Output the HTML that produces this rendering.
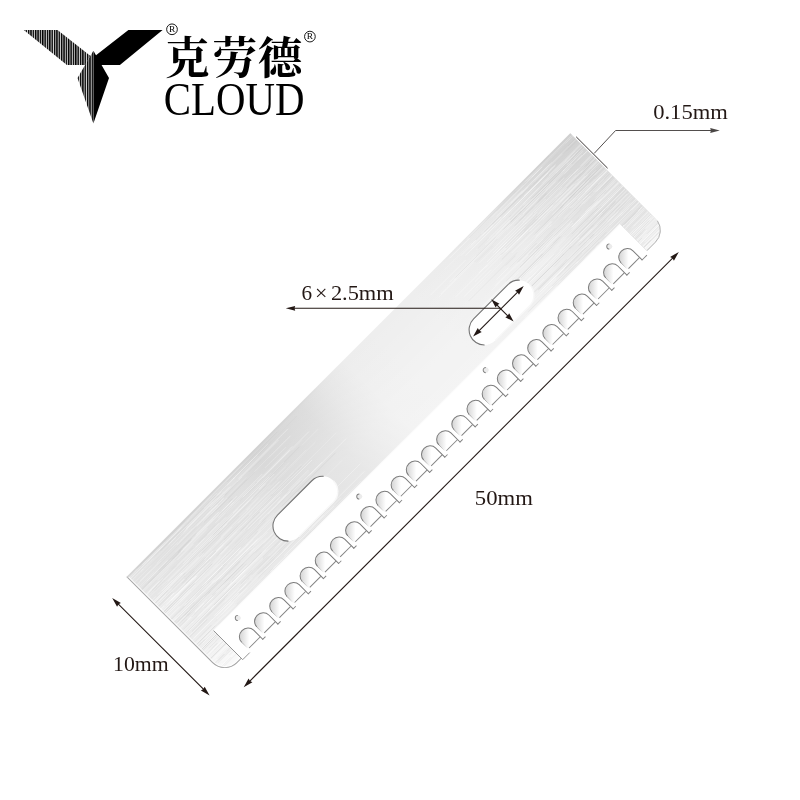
<!DOCTYPE html>
<html lang="zh"><head><meta charset="utf-8"><title>CLOUD blade 50mm</title>
<style>html,body{margin:0;padding:0;background:#fff}body{width:800px;height:800px;overflow:hidden;font-family:"Liberation Serif",serif}svg{display:block;will-change:transform}text{font-family:"Liberation Serif",serif;fill:#231815}</style></head><body>
<svg width="800" height="800" viewBox="0 0 800 800">
<defs>
<pattern id="stripes" patternUnits="userSpaceOnUse" x="23.2" y="0" width="2.36" height="8"><rect x="0" y="0" width="2.36" height="8" fill="#000"/><rect x="1.42" y="0" width="0.94" height="8" fill="#d6d6d6"/></pattern>
<linearGradient id="gU" gradientUnits="userSpaceOnUse" x1="0" y1="0" x2="627.6" y2="0"><stop offset="0" stop-color="#e3e3e3"/><stop offset="0.057" stop-color="#e1e1e1"/><stop offset="0.226" stop-color="#dddddd"/><stop offset="0.282" stop-color="#d6d6d6"/><stop offset="0.338" stop-color="#d8d8d8"/><stop offset="0.387" stop-color="#dcdcdc"/><stop offset="0.44" stop-color="#e6e6e6"/><stop offset="0.488" stop-color="#ededed"/><stop offset="0.553" stop-color="#eeeeee"/><stop offset="0.64" stop-color="#eeeeee"/><stop offset="0.72" stop-color="#ececec"/><stop offset="0.822" stop-color="#e7e7e7"/><stop offset="0.9" stop-color="#dbdbdb"/><stop offset="0.946" stop-color="#d4d4d4"/><stop offset="1" stop-color="#d0d0d0"/></linearGradient>
<linearGradient id="gV" gradientUnits="userSpaceOnUse" x1="0" y1="0" x2="0" y2="137.5"><stop offset="0" stop-color="#fff" stop-opacity="0"/><stop offset="0.50" stop-color="#fff" stop-opacity="0.30"/><stop offset="0.73" stop-color="#fff" stop-opacity="0.34"/><stop offset="1" stop-color="#fff" stop-opacity="0.82"/></linearGradient>
<linearGradient id="gEdge" gradientUnits="userSpaceOnUse" x1="0" y1="0" x2="627.6" y2="0"><stop offset="0" stop-color="#c8c8c8" stop-opacity="0.6"/><stop offset="0.3" stop-color="#c8c8c8" stop-opacity="0.35"/><stop offset="0.45" stop-color="#c8c8c8" stop-opacity="0"/><stop offset="0.7" stop-color="#c8c8c8" stop-opacity="0"/><stop offset="0.85" stop-color="#c8c8c8" stop-opacity="0.3"/><stop offset="1" stop-color="#c8c8c8" stop-opacity="0.5"/></linearGradient>
<clipPath id="bodyClip"><path d="M0 0H627.6V120.5A17 17 0 0 1 610.6 137.5L17.5 139A17.5 17.5 0 0 1 0 121.5Z"/></clipPath>
<linearGradient id="gCell" gradientUnits="userSpaceOnUse" x1="-18.4" y1="-15" x2="-11.4" y2="-8"><stop offset="0" stop-color="#d4d4d4"/><stop offset="0.5" stop-color="#e9e9e9"/><stop offset="1" stop-color="#ffffff"/></linearGradient>
<linearGradient id="gLeg" gradientUnits="userSpaceOnUse" x1="0" y1="-5" x2="0" y2="-14"><stop offset="0" stop-color="#f4f4f4"/><stop offset="1" stop-color="#8a8a8a"/></linearGradient>
<g id="cell"><path d="M-17.4 -3.5V-12.9A8.5 8.0 0 0 1 -0.4 -12.9V-3.5Z" fill="url(#gCell)"/><path d="M-17.4 -5V-12.9" fill="none" stroke="url(#gLeg)" stroke-width="0.9"/><path d="M-17.4 -12.9A8.5 8.0 0 0 1 -0.4 -12.9V0.3" fill="none" stroke="#7c7c7c" stroke-width="1"/><path d="M-0.7 -3.5H-16.2" fill="none" stroke="#828282" stroke-width="0.95"/><path d="M-0.85 0H3.4" fill="none" stroke="#828282" stroke-width="0.95"/></g>
</defs>
<rect width="800" height="800" fill="#fff"/>
<g id="logo-mark">
<path fill="url(#stripes)" d="M23.75 30H57.5L90.2 55.8L85 65H66.9ZM93.4 50.8L77.5 77.9L93.4 123.6Z"/>
<path fill="#000" d="M93.4 50.8L109 77.9L93.4 123.6ZM128.4 30.1H162.6L119.9 64.9H101.5L96 55.3Z"/>
</g>
<g id="logo-text" aria-label="克劳德 CLOUD"><title>克劳德 CLOUD</title>
<text x="165.08 212.56 257.72" y="73.74" font-size="44.7" font-weight="bold" style="font-family:'Liberation Serif','Noto Serif CJK SC',serif;fill:#000">克劳德</text>
<circle cx="172.0" cy="29.3" r="5.35" fill="none" stroke="#000" stroke-width="0.9"/>
<text x="168.9" y="31.75" font-size="7.3" textLength="6.3" lengthAdjust="spacingAndGlyphs" style="fill:#000">R</text>
<circle cx="309.9" cy="36.6" r="5.35" fill="none" stroke="#000" stroke-width="0.9"/>
<text x="306.8" y="39.05" font-size="7.3" textLength="6.3" lengthAdjust="spacingAndGlyphs" style="fill:#000">R</text>
<text x="163.8" y="115" font-size="46.4" textLength="140.6" lengthAdjust="spacingAndGlyphs" style="fill:#000">CLOUD</text>
</g>
<g id="blade" transform="translate(126.5 577) rotate(-45)">
<path d="M0 0H627.6V120.5A17 17 0 0 1 610.6 137.5L17.5 139A17.5 17.5 0 0 1 0 121.5Z" fill="url(#gU)"/>
<path d="M0 0H627.6V120.5A17 17 0 0 1 610.6 137.5L17.5 139A17.5 17.5 0 0 1 0 121.5Z" fill="url(#gV)"/>
<g clip-path="url(#bodyClip)" fill="none" stroke-width="0.7"><path stroke="#ffffff" stroke-opacity="0.48" d="M459.83 79.39h29.45M0 64.35h60.44M64.12 130.97h67.59M88.18 125.72h35.6M600.22 63.58h27.38M14.54 48.18h54.06M551.01 93h76.59M0 40.47h14.84M64.68 91.88h34.25M544.09 16.94h66.75M59.28 65.99h59.46M571.12 122.69h42.48M0 118.23h20.13M28.82 67.59h32.65M78.92 122.59h47.91M441.3 60.19h77.82M167 95.53h40.26M105.1 123.03h49.28M4.71 90.65h26.98M173.81 106.83h23.34M53.26 124.48h40.59M531.72 118.33h69.26M84.95 102.24h16.63M68.85 71.45h58.04M147.64 73.54h40.86M496.87 90.62h76.23M567.49 103.21h58.62M46.91 59.79h54.6M430.43 34.67h45.8M516.52 129.83h79.29M33.4 82.29h39.6M492.77 10.23h52.65M550.46 11.77h44.45M0 111.96h39.77M555.07 73.28h54.06M0 2.13h17.56M530.96 29.14h32.82M50.22 137.69h72.62M34.6 79.85h70.34M1.86 113h36.13M47.9 24.05h22.79M611.28 55.51h16.32M606.67 110.41h20.93M114.75 31.87h49.84M0 104.97h33.04M116.68 40.79h59.23M0 34.5h7.28M153.91 16.16h62.11M58.13 79.63h59.98M40.14 127.03h67.64M92.39 62.91h23.9M463.49 9.17h34.18M0 3.68h47.3M45.65 49.59h76.07M589.65 137.29h37.95M602.46 20.32h25.14M101.87 66.67h79.69M619.44 69.29h8.16M541.63 103.43h45.75M0 68.45h13.22M2.43 52.25h78.62M511.81 96.16h61.74M519.14 137.18h58.68M512.02 49.67h73.8M458.13 74.16h46.37M497.78 105.74h18.7M596.82 0.64h30.78M49.97 40.38h46.5M0 38.19h23.97M567.89 25.56h17.19M619.96 34.83h7.64M123.33 60.82h57.68M515.68 106.54h16.79M613.49 24.54h14.11M114.63 20.98h14.35M0 73.91h20.94M126.67 96.63h70.25M537.12 12.26h56.87M582.75 14.81h44.85M536.95 23.64h46.12M0 96.28h55.69M2.81 112.59h77.82M116.55 49.66h53.08M571.42 44.28h48.35M130.52 55.57h46.26M71.98 89.78h16.46M616.31 39.71h11.29M52.52 6.73h75.12M129.68 84.74h33.58M15.72 103.43h35.48M0 26.64h25.22M606.79 120.38h20.81M166.87 110.09h79.13M0 62.25h12.02M588.61 127.67h38.99M0 2.71h9.93M48.82 30.63h78.6M495.96 95.94h46.51M39.77 93.94h16.54M522.63 105.98h60.72M0 110.47h10.43M130.72 125.79h78.12M75.84 125.21h37.82M578.82 74.41h48.78M516.42 6.87h37.07M488.74 19.1h66.39M6.57 100.83h45.75M599.33 38.67h28.27M36.5 19.23h16.65M138.5 25.8h66.53M589.16 56.19h30.14M551.6 101.99h46.19M40.4 42.88h54.75M34.07 93.85h24M104.11 15.4h23.27M45.47 104.5h20.51M159.39 54.47h32.67M549 67.08h59.56M100.5 12.69h14.56M176.49 57.02h42.95M1.89 122.01h29.87M0 46.19h18.71M603.83 94.19h23.77M112.15 122.24h28.21M0 119.67h37.52M0 0.88h13.23M95 38.31h41.71M464.1 34.16h65.48M585.06 102.78h41.38M563.2 118.53h64.4M53.39 20.4h48.88M543.8 21.81h54.29M50.96 87.11h39.19M0 103.55h42.04M601.43 135.94h26.17M422.08 22.09h22.22M0 129.64h10.09M23.51 48.71h68.96M25.65 3.74h48.4M14.65 49.2h46.02M587.88 78.11h39.72M132.96 54.69h38.53M146.73 79.38h29.63M71.2 119.56h58.77M596.23 64.67h31.37M0 38.58h41.47M132.2 37.47h17.91M537.71 20.21h38.96M83.75 123.91h62.17M453.93 3.07h67.18M132.26 136.64h47.22M447.97 133.05h54.88M571.08 68.68h56.52M103.13 102.81h73.73M466.93 12.3h63.79M0 55.52h35.39M102.53 93.19h56.35M497.32 38.51h67.58M572.05 41.25h55.55M0 107.89h18.05M553.4 91.4h67.66M0 137.95h43.83M44.03 62.91h65.66M611.08 135.37h15.13M59.99 109.66h47.03M441.32 21.79h79.72M451.5 68h65.97M522.27 65.73h15.73M602.56 80.85h25.04M151.33 70.46h15.04M478.51 84.71h27.65M601.25 117.45h26.35M62.73 65.76h58.25M435.77 112.88h18.99M491.63 76.95h27.77M0 37.94h71.16M44.32 115.06h43.68M0.14 49.74h48.28M101.11 24.61h14.48M493.94 36.89h23.14M488.59 30.14h56.02M0 42.23h39.46M54.45 59.59h45.73M564.36 23.92h56.24M568.47 38.43h25.11M475 116.36h37.11M591.34 86.34h36.26M549.29 98.67h19.42M552.64 83h71.74M600.35 78.68h26.4M611.89 30.37h15.71M0.69 78.55h15.31M13.1 78.68h79.42M14.26 124.03h53.92M129.59 92.05h29.54M136.06 6.35h18.75M67 26.34h66.67M479.94 111.27h35.7M571.95 87.58h31.67M67.02 78.67h20.93M37.78 28.21h74.94M477.24 32.17h28.24M38.05 75.43h32.14M121.84 108.67h40.08M144.04 5.99h50.4M615.42 112.59h12.18M99.45 122.09h40.29M596.33 52.13h21.54M607.71 73.33h19.89M153.91 113.35h37.04M70.37 107.19h23.46M561.56 40.83h46.32M80.91 136.82h34.93M175.59 53h28.7M29.03 101.95h76.84M436.85 40.52h38.28M433.35 60.63h51.18M39.49 50.6h77.96M529.89 107.86h31.09M495.87 16.42h70.27M501.26 96.19h41.65M0.72 90.88h67.45M75.53 8h43.89M0 80.67h34.45M414.34 15.66h49.92M472.67 121.79h66.12M132.86 114.73h47.88M11.21 17.19h29.51M124.46 84.29h30.7M159.19 24.87h50.5M68.46 109.39h20.87M574.57 52.78h53.03M588.6 17.93h38.1M127.94 106.62h48.35M562.5 55.89h65.1M120.47 30.07h72.01M22.3 103.01h22.06M22.78 27.78h59.84M585.48 52.45h42.12M162.29 95.82h20.74M559.51 50.46h68.09M588.17 114.63h25.81M8.17 47.76h37.85M569.32 3.88h14.75M514.93 64.16h48.72M116.65 127.13h19.62M614.9 97.08h12.7M568.12 103.77h54.49M596.12 133.88h31.48M58.31 99.54h32.93M6.07 82.38h79.73M202.64 85.15h42.82M478.69 67.28h39.65M78.66 19.43h46.33M531.24 100.09h50.26M436.71 19.89h37.73M465.87 136.51h64.57M103.31 33.08h43.03M466.38 92.71h52.55M494.83 137.64h77.79M146.56 67.21h62.55M15.52 28.05h23.37M471.93 51.34h77.83M0 59.29h26.83M532.06 32.56h16.94M0 48.51h71.31M123.49 119.34h36.52M568.02 49.05h35.18M493.3 90.81h41.63M545.64 35.01h65.36M140.26 48.42h73.62M0 119.45h27.67M529.93 63.2h37.06M530.67 82.89h44.7M0 74.91h20.8M54.37 67.97h77.07M534.38 125.84h63.49M560.5 69.29h65.96M576.16 65.84h14.19M549.17 117.05h42.8M562.51 117.24h29.8M592.98 21.2h21.02M575.19 113.57h52.41M545.54 30.84h62.73M569.26 134.21h32.85M534.75 36.36h26.84M105.94 98.43h46.26M60.77 67.46h47.28M0 128.47h6.31M489.58 32.22h43.86M6.73 98.87h17.65M478.65 8.96h18.06M85.54 13.65h29.97M32.07 75.36h41.09M611.69 52.3h15.91M35.88 91.05h32.4M606.17 35.68h21.43M471.17 27.44h66.14M18.11 114.95h34.76M458.12 137.07h76.08M4.43 66.38h24.2M615.21 47.35h12.39M491.05 26.11h63.48M575.13 53.85h52.47M15.01 35.08h79.02M548.62 2.28h78.09M596.99 106.4h29.09M501.97 40.59h58.95M544.18 18.47h71.51M22.33 77.79h32.8M513.53 38.52h15.62M569.51 22.81h37.11M103.36 6.17h75.96M67.68 39.12h42.65M547.1 65.67h77.6M42.69 73.35h24.67M611.42 80.02h16.18M26.11 32.13h74.93M585.68 99.76h41.63M606.36 104.9h21.24M57.89 12.87h66.73M99.61 32.52h40.28M9.74 34.64h42.6M520.87 105.74h22.41M586.95 74.63h40.65M132.73 101.2h51.92M0 58.01h17.37M51.54 59.9h50.82M119.42 52.09h46.09M44.87 93.23h33.56M544.62 38.18h56.06M510.03 117.14h55.57M594.46 24.62h33.14M618.68 132.29h8.92M65.9 70.21h45.05M543.38 116.87h32.03M464.7 98.21h22.06M0 47.21h24.03M0 53.61h35.58M71.05 100.96h23.27M14.74 47.85h46.65M42.44 125.54h27.56M23.33 100.09h42.68M573.78 65.81h53.82M0 49.67h24.12M546.21 137.85h72.76M494.25 135.68h32.88M472.27 35.43h44.6M107.93 72.39h35.45M0 47.24h6.14M577.28 129.31h50.32M451.74 73.3h45.83M2.58 26.21h17.61M20.96 54.47h72.42M166.45 26.21h65.42M7.75 127.39h23.78M0 36.56h66.24M547.51 33.97h66.89M520.63 12.39h63.42M493.68 8h66.23M528.49 129.53h75.42M432.04 90.85h17.85M572.55 89.44h33.87M181.43 93.47h61.37M18.27 74.21h45.05M571.98 46.27h55.62M57.58 66.43h28.84M148.4 9.39h70.73M430.49 121.45h31M571.98 15.51h55.62M41.5 44.37h27.46M595.82 21.73h28.09M600.48 115.01h27.12M4.13 64.9h58.64M34.56 89.46h78.66M106.3 128.59h53.81M603.13 58.86h24.47M18.45 45.86h72.87M13.15 72.63h27.96M475.39 10.5h32.46M530.29 48.75h21.25M0 58.58h16.59M25.17 123.04h27.43M535.56 7.46h58.45M87.84 101.13h74.95M497.02 123.05h39.95M200.81 57.42h52.42M571.01 97.18h56.59M0 130.56h59.54M453.83 99.1h69.52M585.91 68.47h17.44M0 106.73h27.06M0 85.89h26.95M35.5 83.5h51.16M39.14 37.22h26.17M15.66 132.33h73.7M75.84 58.61h36.77M106.65 23.17h22.35M444.22 61.7h49.05M501.67 43.27h39.1M559.47 131.91h64.92M123.73 23.18h44.95M83.56 33.53h25.24M597.7 127.54h29.9M0 54.29h43.64M0 73.26h56.61M621.5 24.6h6.1M542.38 36.22h44.37M486.86 122.98h67.33M9.01 2.23h16.83M519.66 76.11h44.77M541.83 67.46h57.28M2.93 55.87h73.39M45.89 100.25h50.91M465.98 73.83h65M126.73 135.49h54.48M592.79 69.16h26.1M76.61 7.71h37.96M454.93 37.51h79.6M13.52 73.3h52.5M596.77 92.86h30.83M558.66 83.95h22.86M77.27 76.91h16.45M0 98.9h30.84M524.37 111.36h16.02M557.34 44.78h46.01M59.75 22.6h32M549.34 78.24h49.01M87.17 27.43h16.43M111.01 31.66h66.41M3.25 61.19h64.57M495.38 36.5h77.47M515.76 115.53h27.47M566.42 58.53h31.01M108.87 9.64h28.77M15.83 69.18h25.07M527.99 132.27h28.58M0 6.25h17.88M4.93 118.8h77.92M531.64 135.99h47.96M76.06 78.84h63.91M63.56 78.92h25.89M21.54 78.68h20.53M616.39 97.89h11.21M66.38 45.45h58.41M534.12 67.51h52.33M148.08 10.62h56.42M162.14 122.31h77.17M433.42 105.19h45.85M56.28 20.78h78.91M604.9 59.78h22.7M559.39 41.7h51.36M44.05 114.23h48.52M0 136.17h33.24M39.78 36.32h30.4M466.52 54.61h33.55M49.85 60.26h72.29M70.65 124.44h49.25M493.46 24.68h64.04M0 84.3h29.06M104.48 97.76h25.97"/><path stroke="#ffffff" stroke-opacity="0.28" d="M474.74 71.38h74.4M557.24 125.59h62.18M592.22 32.91h35.38M592.14 114.9h35.46M147.22 95.13h42.93M73.24 106.56h63.45M64.44 45.42h44.57M0 45.09h28.64M19.07 106.52h18.9M495.79 128.78h44.02M0 129.63h54.86M515.62 11.52h18.64M433.82 126.52h40.43M72.82 91.65h19.77M0 138.38h47.88M41.13 132.71h36.54M21.48 92.81h41.17M2.77 91.47h64.11M109.06 106.44h47.38M145.99 120.76h15.08M515.28 61.84h31.01M106.23 123.62h24.18M24.49 85.49h51.72M106.63 101.34h54.37M573.09 79.64h30.32M577.48 133.05h50.12M573.43 18.31h19.41M132.34 79.08h75.37M490.86 56.06h27.63M30.88 69.31h54.59M0 2.27h14.34M592.69 88.79h34.91M0 47.85h32.61M122.86 128.1h62.79M556.42 16.01h62.39M562.59 106.02h56.22M127.94 10.07h73.08M562.64 27.24h29.23M51.69 92.14h20.11M121.05 122.93h73.45M8.14 44.89h65.06M567.5 92.67h60.1M56.06 78.22h33.91M579.14 96.89h43.81M162.83 97.93h70.86M184.47 69.96h50.8M31.26 110.31h77.81M517.13 132.73h76.63M501.19 111.73h58.06M531.04 88.84h35.38M172.2 86.03h33.08M615.2 59.11h12.4M437.53 136.56h62.78M162.8 45.78h34.02M0 4.13h29.19M4.53 130.22h31.33M92.27 15.36h24.86M452.46 96.12h18.62M72.74 8.64h57.14M106.46 11.01h46.05M493.87 19.65h54.39M546.26 41.94h51.8M162.06 38.18h67.21M55.79 65.05h20.18M116.37 76.13h19.84M547.73 91.2h41.27M0 125.53h23.4M0 27.04h66.09M48.03 107.5h54.24M592.96 109.44h34.64M70.83 10.66h75.73M525.33 60.36h42.06M562.45 84.91h20.34M62.43 30.52h26.31M515.87 61.76h46.37M23.99 79.48h21.11M609.97 126.19h17.63M558.74 108.81h33.11M554.48 35.8h50.81M127.49 7.85h51.87M542.39 31.96h52.85M568.8 89.08h33.42M588.63 71.8h35.91M0 110.37h21.85M494.81 69.5h16.05M0 28.88h40.05M546.93 40.28h53.87M512.81 113.85h28.98M57.99 19.05h52.86M55.03 120.34h37.96M0 103.28h36.15M464.72 118.76h28.88M450.76 42.9h38.28M601.94 105.53h25.66M535.08 27.45h57.2M577.87 131.08h49.73M538 79.7h22.35M0 63.08h31.02M603.3 16.2h24.3M81.94 44.95h34.69M0 133.22h36.27M0 70.37h7.65M71.68 137.75h30.24M504.33 18.81h34.66M39 110.93h62.99M587.47 30.95h40.13M82.78 67.69h14.35M118.83 9.24h35.1M15.95 52.7h42.5M604.53 52.26h15.79M73.26 77.85h27.77M9.62 112.42h64.26M106.93 62.06h21.64M492.32 17.41h50.32M27.28 35.9h14.52M24.62 37.28h23.68M0 56.77h26.83M0 95.19h60.61M3.27 137.72h68.54M501.12 57.62h73.99M15.31 32.86h40.65M175.35 37.11h42.02M0 38.71h68.3M604.45 70.14h23.15M503.86 86.84h64.54M111.22 122.55h16.92M100.47 131.59h21.79M593.76 40.01h22.28M47.67 63.74h31.11M518.36 69.29h31.95M0 26.27h14.22M64.1 54.93h21.81M53.4 41.5h17.96M78.86 110.93h67.46M564.59 75.9h50.99M477.67 118.71h74.71M588.36 84.01h39.24M6.59 12.42h26.66M9.84 45.25h78.51M607.61 35.04h19.99M117.54 89.58h77.38M66.77 83.04h59.67M52.64 109.53h44M52.22 16.87h36.43M109.5 113.22h35M0 42.44h21.47M80.21 49.81h33.02M14.17 128.86h45.43M456.03 110.25h68.59M418.51 23.01h79.46M566.44 105.33h21.94M471.95 1.16h59.52M164.62 128.27h67.57M601.96 57.6h25.64M547.63 98.66h76.35M518.73 115.83h77.23M506.59 109.12h33.41M139.85 43.82h64.13M592.56 88.43h33.39M551.64 16.22h29.43M31.16 11.65h29.98M517.44 126.86h25.1M40.82 21.49h68.36M9.87 21.02h57.86M500.2 70.32h20.74M585.8 51.63h41.8M168.93 34.04h27.01M24.23 123.69h26.53M0 94.19h9.73M71.43 33.33h16.67M453.76 90.85h77.01M599.11 110.67h28.49M528.23 48.85h78.4M30 138.34h32.53M516.66 80.39h69.04M0.36 96.79h56.87M0 30.42h68.54M105.83 135.41h49.77M25.69 62.07h76.79M0 64.51h43.4M112.52 73.21h22.22M559.32 89.24h17.4M0 130.5h19.19M67.83 8.45h23.16M520.84 12.2h57.65M17.65 129.97h46.11M70.5 115.3h58.62M0 60.9h41.24M602.97 83.52h24.63M576.93 99.55h16.68M564.2 3.53h60.32M534.48 113.48h69.16M0 103.71h49.4M81.5 87.93h70.18M62.52 12.35h48.01M56.85 94.3h34.16M67.52 89.11h56.68M527.1 70.5h66.42M588.09 137.57h16.28M0 24.37h35.16M602.51 86.89h25.09M56.58 103.33h40.51M28.51 55.97h56.84M575.54 119.88h52.06M585.19 39.35h42.41M126.1 121.83h20.54M36.48 131.53h38.58M0 31.33h42.94M553.08 68.04h74.52M58.08 57.03h70.06M34.64 110.6h15.56M554.79 39.18h41.12M566.07 128.6h61.53M0 93.3h21.08M42.83 101.06h45.32M71.6 8.72h64.91M619.79 94.22h7.81M491.18 71.42h59.58M569.16 8.31h57.99M108.73 55.66h24.73M0 114.88h34.83M5.19 25.97h70.01M54.86 1.26h17.81M43.69 65.44h24.34M5.29 37.03h28.27M81.08 62.58h73.6M88.34 43.47h46.23M492.77 134.56h18.01M578.19 102.94h49.41M79.61 4.62h43.76M13.5 7.06h62.3M614.8 121.46h12.8M59.8 19.82h46.17M601.32 31.61h26.28M490.47 1.08h33.02M537.12 70.09h45.42M0 15.79h23.18M516.97 60.22h63.65M0 95.79h57.49M123.27 36.65h43.56M31.85 118.2h62.3M556.23 84.67h60.81M87.6 66.04h37M514.87 23.34h57.14M554 110.68h21.14M134.52 78.24h32.58M0 94.15h31M587.01 34.14h18.71M471.19 127.16h67.23M85.47 103.05h40.79M539.99 16.77h66.17M87.78 2.36h73.7M574.51 67.32h22.61M80.41 98.15h39.23M161.51 44.05h30.75M610.86 37.49h16.74M77.73 100.57h58.18M611.77 126.71h15.83M11.66 47.57h36.26M521.79 3.42h35.79M56.36 4.1h27.85M217.04 30.97h23.81M94.49 13.01h29.19M0 12.62h21.95M34.85 114.31h77.43M22.87 77.71h22.87M0 19.91h30.62M121.76 12.09h38.78M511.49 58.44h45.73M0 68.8h21.39M112.89 32.74h51.05M0 36.66h65.45M505.48 104.42h63.44M77.64 133.99h55.18M0 40.27h50.34M163.26 41.17h14.98M475.5 12.59h42.41M206.49 27.5h14.53M59.25 65.96h59.26M473.5 22.98h61.26M72.91 80.75h53.7M60.3 97.48h33.45M530.51 75.13h47.58M460.29 55.5h73.87M0 37.13h10.07M64.95 29.45h68.47M558.01 80.13h69.59M471.73 104.36h59.38M8.42 104.85h58.81M506.75 73.07h69.2M563.51 129.27h49.92M592.06 47.02h15.35M89.43 135h17.72M546.01 51.78h30.49M7.55 106.24h25.01M68.56 96.22h29.09M147.88 81.85h33.15M84.69 14.28h71.55M0 2.35h51.84M477.98 16.06h78.63M531.65 8.4h75.49M542.82 18.16h78.13M7.68 39.74h72.69M66.19 56.06h79.94M567.99 7.38h49.02M19.48 23.3h70.45M586.83 59.63h40.77M11.21 73.71h45.99M593.1 134.04h26.04M0 70.15h8.37M0 44.95h38.54M41.11 86.68h49.17M40.04 91.49h64.17M17.85 45.07h19.67M520.07 9.4h66.25M470.46 76.54h73.15M417.4 129.21h69.37M0 39.71h16.89M0.87 118.95h35.91M107.6 59.31h42.42M0 109.63h66.54M589.02 18.98h20.1M86.27 39.77h74.72M500.37 72.38h38.59M0 31.94h19.74M50.02 100.44h78.03M532.39 97.52h16.12M0 13.02h35.66M0 136.12h13.36M480.07 1.38h14.69M581.43 49.73h31.1M55.52 114.05h72.01M484.14 76.83h78.86M567.85 9.31h39.71M512.33 3.94h67.3M551.86 2.66h18.88M545.76 112.78h59.14M0 21.06h13.87M85.21 99.56h32.3M527.75 130.44h36.3M579.93 32.26h47.67M0 84.68h45.52M0 129.8h60.71M107.88 114.02h75.19M518.98 119.28h51.36M68.62 3.11h49.31M0 101.99h60.03M586.31 137.06h41.29M461.54 81.33h62.77M0 64.01h21.42M13.37 51.09h50.5M580.63 58.61h33.65M0 66.04h18.52M0 9.54h77.76M525.58 120.33h66.62M485.45 70.19h24.41M0 54.37h15.25M53.35 116.04h51.45M0 63.46h35.46M81.09 122.3h21.98M570.36 47.29h14.18M70.51 51.52h20.03M84.13 70.76h33.04M0 22.45h20.65M604.8 112.48h22.8M441.07 117.64h58.45M574.07 36.63h20.97M573.33 92.19h48.87M101.4 80.49h19.52M587.53 134.27h21.68M79.87 62.05h47.94M0 115.99h22.35M52.13 105.53h70.04M114.46 42.7h52.73M537.04 104.4h29.7M145.48 28.81h31.1M520.38 120.49h53.33M0 17.6h30.45M506.53 13.7h58.44M0 126.74h50.78M544.73 68.8h40.07M99.56 48.91h63.11M560.72 87.26h33.14M0 103.93h7.15M561.92 88.6h37.99M115.64 45.57h69.36M538.53 20.93h18.93M41.31 26.03h19.51M559.96 117.03h64.29M620.51 59.83h7.09M532.88 95.6h55.9M20.34 22.36h25.69M0 39.48h23.13M24.4 29.07h38.7M557.8 94.3h59.14M104.06 90.1h21.74M46.25 117.34h49.86M521.94 32.52h23.48M523.58 78.13h58.95M522.58 137.37h79.56M9.59 128.09h44.28M522.23 136.67h54.26M55.52 96.15h43.57M479.41 121.47h70.25M128.92 78.99h43.61M40.71 3.68h36.92M617.09 3.92h10.51M141.07 102.28h20.4M501.47 102.42h39.25M598.47 101.9h24.45M30.23 77.25h68.9M545.04 113.25h63.79M0 27.04h14.96M114.05 116.81h46.16M52.27 127.56h73.77M141.96 34.74h48.07M18.85 67.77h53.24M166.58 54.5h36.93M68.74 5.07h44.62M66.46 130.34h20.25M3.08 121.19h62.43M534.55 91.97h16.91M106.09 70.18h16.18M56.24 60.11h18.89M496.56 68.12h55.36M122.02 45.45h64.35M568.1 29.45h30.69M521.32 98.85h29.5M519.03 47.3h72.96M20.79 131.72h39.45M478.63 1.99h27.16M488.38 78.05h62.4M55.97 102.73h25.48M558.5 57.23h30.43M555.94 48.31h28.88M1.2 36.55h41.54M92.09 86.22h38.81M552.61 136.61h19.33M524.26 104.9h67.64M612.58 90.04h15.02M1.33 68.57h67.31M81.81 4.11h14.15M15.07 6.1h17.29M130.64 75.56h16.51M571.8 11.25h19.77M442.05 7.63h38.49M0 27.69h8.33M132.31 86.91h62.39M2.03 120.84h75.34M81.79 7.64h16.11M130 96.82h69.57M36.85 70.68h24.36M451.34 130.95h61.38M554.12 48.76h39.77M28.2 45.2h65.1M555.98 117h68.59M40.74 135.15h16.58M115.58 24.48h42.28M608.22 116.59h19.38M0 100.61h33.91M41.24 97.17h63.33M147.7 124.91h60.62M0 21.24h41.66M160.06 130.38h69.32M119.76 93.42h14.74M185.63 46.26h64.86M70.75 46.25h61.01M62.29 93.08h73.68M175.22 20.86h29.16M83.26 118.14h39.27"/><path stroke="#c4c4c4" stroke-opacity="0.4" d="M484.52 65.8h38.78M15.38 69.56h33.73M0 94.07h26.13M520.84 9.69h62.83M158.55 120.31h36.46M611.94 9.87h15.66M0 105.91h60.75M41.87 101.8h29.13M0 123.62h14.74M567.45 45.78h60.15M583.2 43.92h44.4M0 61.3h20.72M148.27 104.28h25.1M609.93 60.97h17.67M602.22 33.78h25.38M461.56 86.86h74.65M30.45 107.93h16.72M552.52 76.52h75.08M580.32 45.48h47.28M171.67 30.3h42.92M586.08 36.38h41.52M42.18 68.59h64.93M110.38 105.5h60.49M71.15 78.02h41.85M113.04 47.93h27.02M593.84 79.16h33.76M0 104.21h28.7M500.7 35.43h71.19M508.3 9.2h54.86M554.71 117.6h67.21M119.73 105.16h44.65M127.36 11.37h18.42M54.71 18.79h18.75M34.23 77.3h34.97M523.49 18.69h79.79M40.28 42.97h26.9M150.89 116.29h29.66M46 69.49h45.2M510.45 98.98h54.74M142.62 34.02h20.76M512.42 56.48h37.32M47.13 127.17h18.48M0 19.93h56.28M26.82 18.45h53.41M36.95 46.66h34.39M76.16 85.56h38.67M0 51.19h70.08M109.72 83.43h27.67M600.67 102.9h20.14M515.86 92.5h73.85M0 99.54h11.21M469.74 111.18h36.09M573.24 129.46h30.22M138.42 4.13h70.93M552.99 18.54h74.61M549.85 128.67h76.8M498.82 53.82h27.23M590.61 138.39h36.99M95.09 91.04h68.89M44.3 19.51h27.92M7.8 84.85h46.17M111.33 19.33h18.86M58.37 124.36h68.75M3.71 125.31h33.62M108.12 131.18h29.9M52.8 61.55h21.78M511.7 130.09h70.39M0 97.25h28.21M21.87 67.33h42.32M482.29 2.77h79.97M575.63 102.07h48.25M79.87 42.61h50.45M490.33 67.63h71.8M552.75 132.44h56.3M138.36 81.85h42.05M497.43 59.19h33.65M477.99 65.95h69.05M0 117.03h26.89M605.85 19.69h21.75M56.52 100.82h33.93M460.19 102.9h56.26M489.6 40.96h39.59M578.47 48.11h49.13M521.94 57.74h62.87M0 2.7h19.88M545.25 81.32h33.49M504.95 106.49h27.63M587.58 133.03h40.02M557.42 72.4h36.61M0 52.69h43.75M93.41 16.12h71.42M0 110.97h17.48M560.11 80.6h67.49M512 20.72h19.46M494.36 88.14h78.92M522.77 26.08h45.89M22.47 44.8h59.19M610.5 125.32h17.1M0 65.82h30.11M76.87 58.7h61.51M448.95 110.18h67.18M94.29 107.31h57.05M534.14 20.82h78.82M135.65 110.92h45.35M485.48 125.38h56.06M17.75 74.3h34.44M53.96 107.63h29.59M76.03 60.3h49.53M0 72.85h23.92M126.43 130.44h20M47.78 73.29h44.51M43 5.58h78.23M41.37 119.36h62.85M41.88 81.72h31.57M79.89 112.81h28.24M159.66 59.93h75.92M528.14 91.78h29.77M503.72 113.55h69.6M79.44 4.8h33.75M479.32 80.84h69.28M566.2 65.47h46.73M556.49 10.67h30.74M67.6 103.01h44.54M13.44 1.45h67.58M484.99 8.66h64.59M0 43.04h21.59M550.35 124.79h53.89M595.74 55.73h31.86M589.71 80.46h21.19M473.19 80.94h64.82M0 70.46h20.07M34.58 43.74h17.93M91.09 31.58h64.67M506.66 95.42h76.31M554.16 85.34h58.34M601.78 24.74h25.82M522.73 20.65h40.56M159.68 45.31h42.49M583.93 32.33h43.67M0 87.02h27.2M519.53 125.36h67.76M0 38.79h20.03M579.71 120.68h33.3M506.33 134.01h60.13M493.15 37h71.78M474.62 110.48h53.2M590.86 7.39h36.74M0 38.66h44.9"/><path stroke="#cfcfcf" stroke-opacity="0.3" d="M0 24.19h19.73M609.71 62.74h17.89M554.81 73.3h43.29M558.6 49.83h42.3M514.74 61.04h38.5M58.77 97.35h51.07M521.64 82.87h35.08M481.7 75.78h55.25M0 132.09h37.39M0 67.66h41.61M72.09 87.43h14.07M42.94 1.56h60.51M51.24 49.1h37.33M43.15 36.57h79.91M567.25 89.19h23.53M538.32 76.84h57.19M608.47 92.75h19.13M599.03 14.72h28.57M27.76 105.12h70.96M530.3 46.27h57.8M538.13 24.9h34.51M588.75 65.26h38.85M30.58 34.47h68.98M55.66 73.23h65.13M552.85 49.6h20.18M471.93 96.61h67.95M81.19 12.05h49.77M520.05 36.7h22.61M502.51 57.41h24.61M459.78 102.11h47.6M490.47 26.11h59.23M72.01 34.61h69.4M155.69 104.45h67.29M490.09 112.61h74.61M176.85 6.55h57.39M10.48 113.73h50.44M541.61 130.49h38.7M0 11.33h7.01M580.46 110.41h23.62M134.51 56.56h57.57M35.82 62.04h60.52M526.17 36.37h50.49M40.41 40.91h29.69M436.95 46.79h69.12M133.63 119.65h43.75M94.01 50.22h69.25M57.03 91.5h60.32M119.04 135.71h19.13M544.3 2.62h62.55M24.04 60.48h55.01M535.65 115.5h62.44M547.81 5.34h56.76M108.3 98.82h60.52M95.43 56.92h44.42M83.84 86.94h66.35M17.92 127.84h77.8M500.01 105.08h41.57M37.29 26.09h78.71M15.46 71.02h15.31M581.81 43.47h31.19M597.26 114.02h30.34M24.33 40.5h17.49M529.87 25.78h60.59M37.24 132.07h62.9M0 84.38h58.85M599.24 56.07h28.36M603.23 54.16h24.37M0 19.55h20.61M567.06 87.95h51.8M47.81 42.13h22.24M110.1 16.52h75.71M100.43 52.94h34.99M444.15 20.78h56.66M87.91 119.16h44.51M67.96 91.14h17.19M29.53 14.55h64.38M3.28 77.39h31.75M110.47 46.1h57.61M25.35 50.17h57.14M525.03 16.08h64.7M579.59 102.05h48.01M0 18.33h70.63M98.65 86.86h18.03M611.54 40.21h16.06M586.11 27.57h14.53M468.59 23.21h32.84M128.99 74.21h65.17M74.33 131.48h28.33M502.68 128.03h64.72M0 81.57h36.59M138.31 78.99h63.07M0 104.45h27.98M7.25 64.04h48.83M146.7 6.43h50.08M214.87 135h14.12M3.93 27.67h66.14M516.63 97.41h62.24M534.17 66.25h48.24M121.68 136.74h41.57M8.86 27.36h34.55M519.19 10.04h33.31M494.55 33.27h55.22M560.4 130.33h67.2M94.74 89.63h60.29M555.69 25.57h61.1M166.47 131.94h28.57M466.72 82.79h15.3M4.11 68.19h57.35M107.15 74.15h53.56M535.07 121.7h73.47M78.46 137.34h36.11M438.43 113.31h55.11M5.81 124.01h21.18M50.09 48.59h70.98M587.94 119.53h38.79M73.89 70.68h28.81M18.54 83.7h75.16M579.56 35.43h48.04M126.77 12.19h51.59M568.66 132.45h58.94M6.84 122.22h41.14M543.73 61.41h38.64M488.16 47.85h14.24M489.44 51.68h55.43M0 31.78h19.25M11.28 19.87h48M0 61.84h28.89M81.55 0.7h25.55M209.78 114.79h18.34M34.89 5.17h43.07M59.42 124.18h22.07M75.73 26.56h79.48M31.78 121.96h70.27M0 117.51h24.55M601.59 82.21h26.01M64.4 122.87h64.97M608.63 34.83h18.3M426.72 103.24h79.91M589.51 137.41h38.09M21.23 26.16h78.85M18.27 123.42h62.73M565.78 9.93h61.82M559.78 23.54h54.01M480.67 16.03h47.32M25.68 9.38h27.4M477.9 59.21h65.96M36.4 73.27h36.13M51.35 131.44h51.51M59.47 67.24h52.41M496.26 133.51h65.84M92.98 93.75h57.01M0 130.65h17.25M526.76 111.32h66.97M0 68.16h21.12M508.7 2.03h51.69M63.15 103.9h62.44M470.4 24.76h62.31M601.82 102.83h15.34M561.28 108.86h66.32M73.74 55.58h70.94M7.93 108.37h75.95M0 66.4h9.58M487.91 99.38h64.39M110.5 82.43h23.59M14.12 68.35h77.35M555.84 112.48h71.76M532.43 45.91h55.62M24.43 122.05h35.6M453.42 111.95h38.85M78.8 48.87h21.97M62.75 7.15h60.17M47.81 75.43h46.42M547 17.65h30.92M455.64 136.69h18.41M564.86 37.06h62.74M80.38 89.59h79.77M494.1 87.63h37.36M10.11 29.62h41.62"/></g>
<path d="M1.5 1V121.5A16 16 0 0 0 17.5 137.5H23.7" fill="none" stroke="#fff" stroke-opacity="0.8" stroke-width="1"/>
<path d="M0.4 0V121.5A17.1 17.1 0 0 0 17.5 138.6H23.7" fill="none" stroke="#a2a2a2" stroke-width="0.95"/>
<path d="M627.3 123.5A16.7 16.7 0 0 1 610.6 137.2H598.6" fill="none" stroke="#adadad" stroke-width="0.85"/>
<rect x="0" y="0" width="627.6" height="1.8" fill="url(#gEdge)"/>
<path d="M150.5 63H199.1A15.2 15.2 0 0 1 199.1 93.4H150.5A15.2 15.2 0 0 1 150.5 63Z" fill="#fff"/>
<path d="M139.86 89.14A15.2 15.2 0 0 1 150.5 63H199.1A15.2 15.2 0 0 1 210.5 68.17" fill="none" stroke="#747474" stroke-width="1.1"/>
<path d="M150.5 93.4H199.1A15.2 15.2 0 0 0 214.3 78.2" fill="none" stroke="#f8f8f8" stroke-width="1.4"/>
<path d="M427.9 63H476.5A15.2 15.2 0 0 1 476.5 93.4H427.9A15.2 15.2 0 0 1 427.9 63Z" fill="#fff"/>
<path d="M417.26 89.14A15.2 15.2 0 0 1 427.9 63H476.5A15.2 15.2 0 0 1 487.9 68.17" fill="none" stroke="#747474" stroke-width="1.1"/>
<path d="M427.9 93.4H476.5A15.2 15.2 0 0 0 491.7 78.2" fill="none" stroke="#f8f8f8" stroke-width="1.4"/>
<path d="M23.7 99.5H598.6V142H23.7Z" fill="#fff"/>
<path d="M23.7 99.5V140.6H33.7" fill="none" stroke="#8f8f8f" stroke-width="0.9"/>
<path d="M24.2 99.5H598.6" fill="none" stroke="#fbfbfb" stroke-width="1"/>
<path d="M598.6 99.5V137.5" fill="none" stroke="#e6e6e6" stroke-width="0.8"/>
<circle cx="50" cy="108" r="2.6" fill="#ebebeb"/>
<path d="M47.9 109.6A2.6 2.6 0 0 1 51.6 105.9" fill="none" stroke="#7d7d7d" stroke-width="0.95"/>
<circle cx="221.8" cy="108" r="2.6" fill="#ebebeb"/>
<path d="M219.7 109.6A2.6 2.6 0 0 1 223.4 105.9" fill="none" stroke="#7d7d7d" stroke-width="0.95"/>
<circle cx="400.6" cy="108" r="2.6" fill="#ebebeb"/>
<path d="M398.5 109.6A2.6 2.6 0 0 1 402.2 105.9" fill="none" stroke="#7d7d7d" stroke-width="0.95"/>
<circle cx="575.4" cy="108" r="2.6" fill="#ebebeb"/>
<path d="M573.3 109.6A2.6 2.6 0 0 1 577 105.9" fill="none" stroke="#7d7d7d" stroke-width="0.95"/>
<use href="#cell" x="52.7" y="140.4"/>
<use href="#cell" x="74.16" y="140.4"/>
<use href="#cell" x="95.62" y="140.4"/>
<use href="#cell" x="117.08" y="140.4"/>
<use href="#cell" x="138.54" y="140.4"/>
<use href="#cell" x="160" y="140.4"/>
<use href="#cell" x="181.46" y="140.4"/>
<use href="#cell" x="202.92" y="140.4"/>
<use href="#cell" x="224.38" y="140.4"/>
<use href="#cell" x="245.84" y="140.4"/>
<use href="#cell" x="267.3" y="140.4"/>
<use href="#cell" x="288.76" y="140.4"/>
<use href="#cell" x="310.22" y="140.4"/>
<use href="#cell" x="331.68" y="140.4"/>
<use href="#cell" x="353.14" y="140.4"/>
<use href="#cell" x="374.6" y="140.4"/>
<use href="#cell" x="396.06" y="140.4"/>
<use href="#cell" x="417.52" y="140.4"/>
<use href="#cell" x="438.98" y="140.4"/>
<use href="#cell" x="460.44" y="140.4"/>
<use href="#cell" x="481.9" y="140.4"/>
<use href="#cell" x="503.36" y="140.4"/>
<use href="#cell" x="524.82" y="140.4"/>
<use href="#cell" x="546.28" y="140.4"/>
<use href="#cell" x="567.74" y="140.4"/>
<use href="#cell" x="589.2" y="140.4"/>
<path d="M592.2 140.4H595.6" fill="none" stroke="#828282" stroke-width="0.95"/>
</g>
<g id="dims">
<path d="M249.13 681.77L673.37 257.43" stroke="#231815" stroke-width="1.1" fill="none"/><path d="M243.7 687.2L252.4 682.32L250.01 680.89L248.58 678.5Z" fill="#231815"/><path d="M678.8 252L673.92 260.7L672.49 258.31L670.1 256.88Z" fill="#231815"/>
<path d="M117.63 603.43L204.17 689.97" stroke="#231815" stroke-width="1.1" fill="none"/><path d="M112.2 598L117.08 606.7L118.51 604.31L120.9 602.88Z" fill="#231815"/><path d="M209.6 695.4L200.9 690.52L203.29 689.09L204.72 686.7Z" fill="#231815"/>
<path d="M576.2 136.8L607.6 168.2" stroke="#3a3534" stroke-width="1" fill="none"/>
<path d="M594.2 153.4L615.6 130.5H712" stroke="#4a4645" stroke-width="0.95" fill="none"/>
<path d="M700 130.5L712.12 130.5" stroke="#4a4645" stroke-width="0.95" fill="none"/><path d="M719.8 130.5L710.2 132.9L710.87 130.5L710.2 128.1Z" fill="#4a4645"/>
<path d="M293.32 308.3L500.8 308.3" stroke="#231815" stroke-width="1.05" fill="none"/><path d="M285.8 308.3L295.2 310.7L294.54 308.3L295.2 305.9Z" fill="#231815"/>
<path d="M478.42 331.29L518.38 291.41" stroke="#231815" stroke-width="1.1" fill="none"/><path d="M473.1 336.6L481.73 331.94L479.29 330.42L477.78 327.98Z" fill="#231815"/><path d="M523.7 286.1L519.02 294.72L517.51 292.28L515.07 290.76Z" fill="#231815"/>
<path d="M496.3 304.38L508.5 316.52" stroke="#231815" stroke-width="1.1" fill="none"/><path d="M491.2 299.3L495.67 307.56L497.13 305.21L499.48 303.74Z" fill="#231815"/><path d="M513.6 321.6L505.32 317.16L507.67 315.69L509.13 313.34Z" fill="#231815"/>
</g>
<g id="labels">
<text x="653.2" y="118.8" font-size="20.8" textLength="74.6" lengthAdjust="spacingAndGlyphs">0.15mm</text>
<text y="299.8" font-size="20.8"><tspan x="301.6" textLength="10.6" lengthAdjust="spacingAndGlyphs">6</tspan><tspan x="315.1" font-size="22">×</tspan><tspan x="330.9" textLength="62.8" lengthAdjust="spacingAndGlyphs">2.5mm</tspan></text>
<text x="474.8" y="504.8" font-size="20.8" textLength="58" lengthAdjust="spacingAndGlyphs">50mm</text>
<text x="113.1" y="671.4" font-size="20.8" textLength="55.6" lengthAdjust="spacingAndGlyphs">10mm</text>
</g>
</svg></body></html>
